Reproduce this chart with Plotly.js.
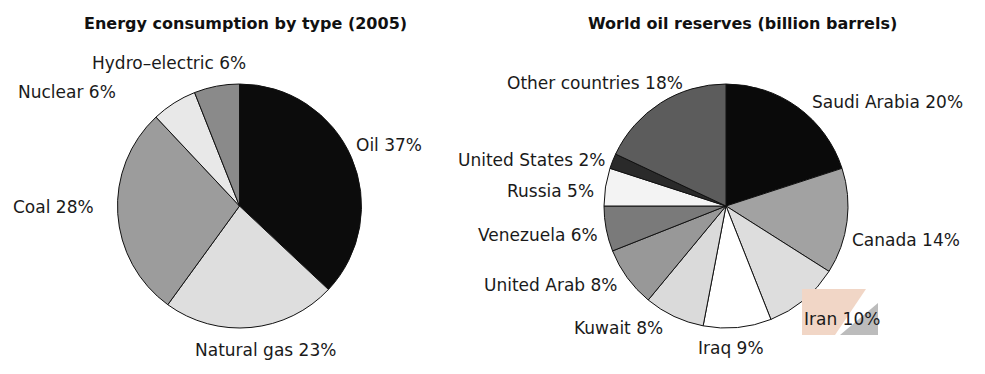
<!DOCTYPE html>
<html>
<head>
<meta charset="utf-8">
<script src="https://cdn.plot.ly/plotly-3.0.1.min.js"></script>
<style>html,body{margin:0;padding:0;background:#fff;}#chart{width:985px;height:374px;}</style>
</head>
<body>
<div id="chart"></div>
<script>
// ---- data ----
const energyTitle = 'Energy consumption by type (2005)';
const energyLabels = ['Oil', 'Natural gas', 'Coal', 'Nuclear', 'Hydro–electric'];
const energyValues = [37, 23, 28, 6, 6];

const oilTitle = 'World oil reserves (billion barrels)';
const oilLabels = ['Saudi Arabia', 'Canada', 'Iran', 'Iraq', 'Kuwait', 'United Arab', 'Venezuela', 'Russia', 'United States', 'Other countries'];
const oilValues = [20, 14, 10, 9, 8, 8, 6, 5, 2, 18];

// ---- styles / layout ----
const W = 985, H = 374;
const energyColors = ['#0c0c0c', '#dedede', '#9c9c9c', '#e8e8e8', '#8a8a8a'];
const oilColors = ['#0a0a0a', '#a2a2a2', '#dddddd', '#ffffff', '#dadada', '#989898', '#7a7a7a', '#f3f3f3', '#2a2a2a', '#5c5c5c'];

// label centre positions in pixels (layout only)
const energyLabelPos = [[389, 145], [265, 350], [53, 207], [67, 92], [169, 63]];
const oilLabelPos = [[887, 102], [906, 240], [842, 319], [731, 348], [618, 328], [550, 285], [538, 235], [550, 191], [532, 160], [595, 83]];

function px(x) { return x / W; }
function py(y) { return 1 - y / H; }

function pieTrace(labels, values, colors, box) {
  return {
    type: 'pie',
    labels: labels,
    values: values,
    sort: false,
    direction: 'clockwise',
    rotation: 0,
    textinfo: 'none',
    hoverinfo: 'label+value',
    marker: { colors: colors, line: { color: '#111', width: 1 } },
    domain: { x: [px(box[0]), px(box[2])], y: [py(box[3]), py(box[1])] },
    showlegend: false
  };
}

const traces = [
  pieTrace(energyLabels, energyValues, energyColors, [117.5, 84, 361.5, 328]),
  pieTrace(oilLabels, oilValues, oilColors, [604, 84, 848, 328])
];

const labelFont = { family: 'DejaVu Sans', size: 17, color: '#1a1a1a' };
const titleFont = { family: 'DejaVu Sans', size: 16, color: '#111', weight: 'bold' };

const annotations = [];
function addLabels(labels, values, pos) {
  labels.forEach(function (l, i) {
    annotations.push({
      xref: 'paper', yref: 'paper',
      x: px(pos[i][0]), y: py(pos[i][1]),
      xanchor: 'center', yanchor: 'middle',
      text: l + ' ' + values[i] + '%',
      showarrow: false,
      font: labelFont
    });
  });
}
addLabels(energyLabels, energyValues, energyLabelPos);
addLabels(oilLabels, oilValues, oilLabelPos);
annotations.push({ xref: 'paper', yref: 'paper', x: px(245), y: py(23), xanchor: 'center', yanchor: 'middle', text: '<b>' + energyTitle + '</b>', showarrow: false, font: titleFont });
annotations.push({ xref: 'paper', yref: 'paper', x: px(742), y: py(23), xanchor: 'center', yanchor: 'middle', text: '<b>' + oilTitle + '</b>', showarrow: false, font: titleFont });

function pathFromPx(points) {
  return 'M' + points.map(function (p) { return px(p[0]) + ',' + py(p[1]); }).join(' L') + ' Z';
}

const shapes = [
  { type: 'path', xref: 'paper', yref: 'paper', path: pathFromPx([[802, 289], [866, 289], [835, 335], [802, 335]]), fillcolor: '#f1d6c6', line: { width: 0 }, layer: 'above' },
  { type: 'path', xref: 'paper', yref: 'paper', path: pathFromPx([[840, 335], [878, 335], [878, 303]]), fillcolor: '#bcbcbc', line: { width: 0 }, layer: 'above' }
];

const layout = {
  width: W, height: H,
  margin: { l: 0, r: 0, t: 0, b: 0, pad: 0 },
  paper_bgcolor: '#ffffff',
  plot_bgcolor: '#ffffff',
  annotations: annotations,
  shapes: shapes,
  font: { family: 'DejaVu Sans' }
};

Plotly.newPlot('chart', traces, layout, { staticPlot: true, displayModeBar: false });
</script>
</body>
</html>
